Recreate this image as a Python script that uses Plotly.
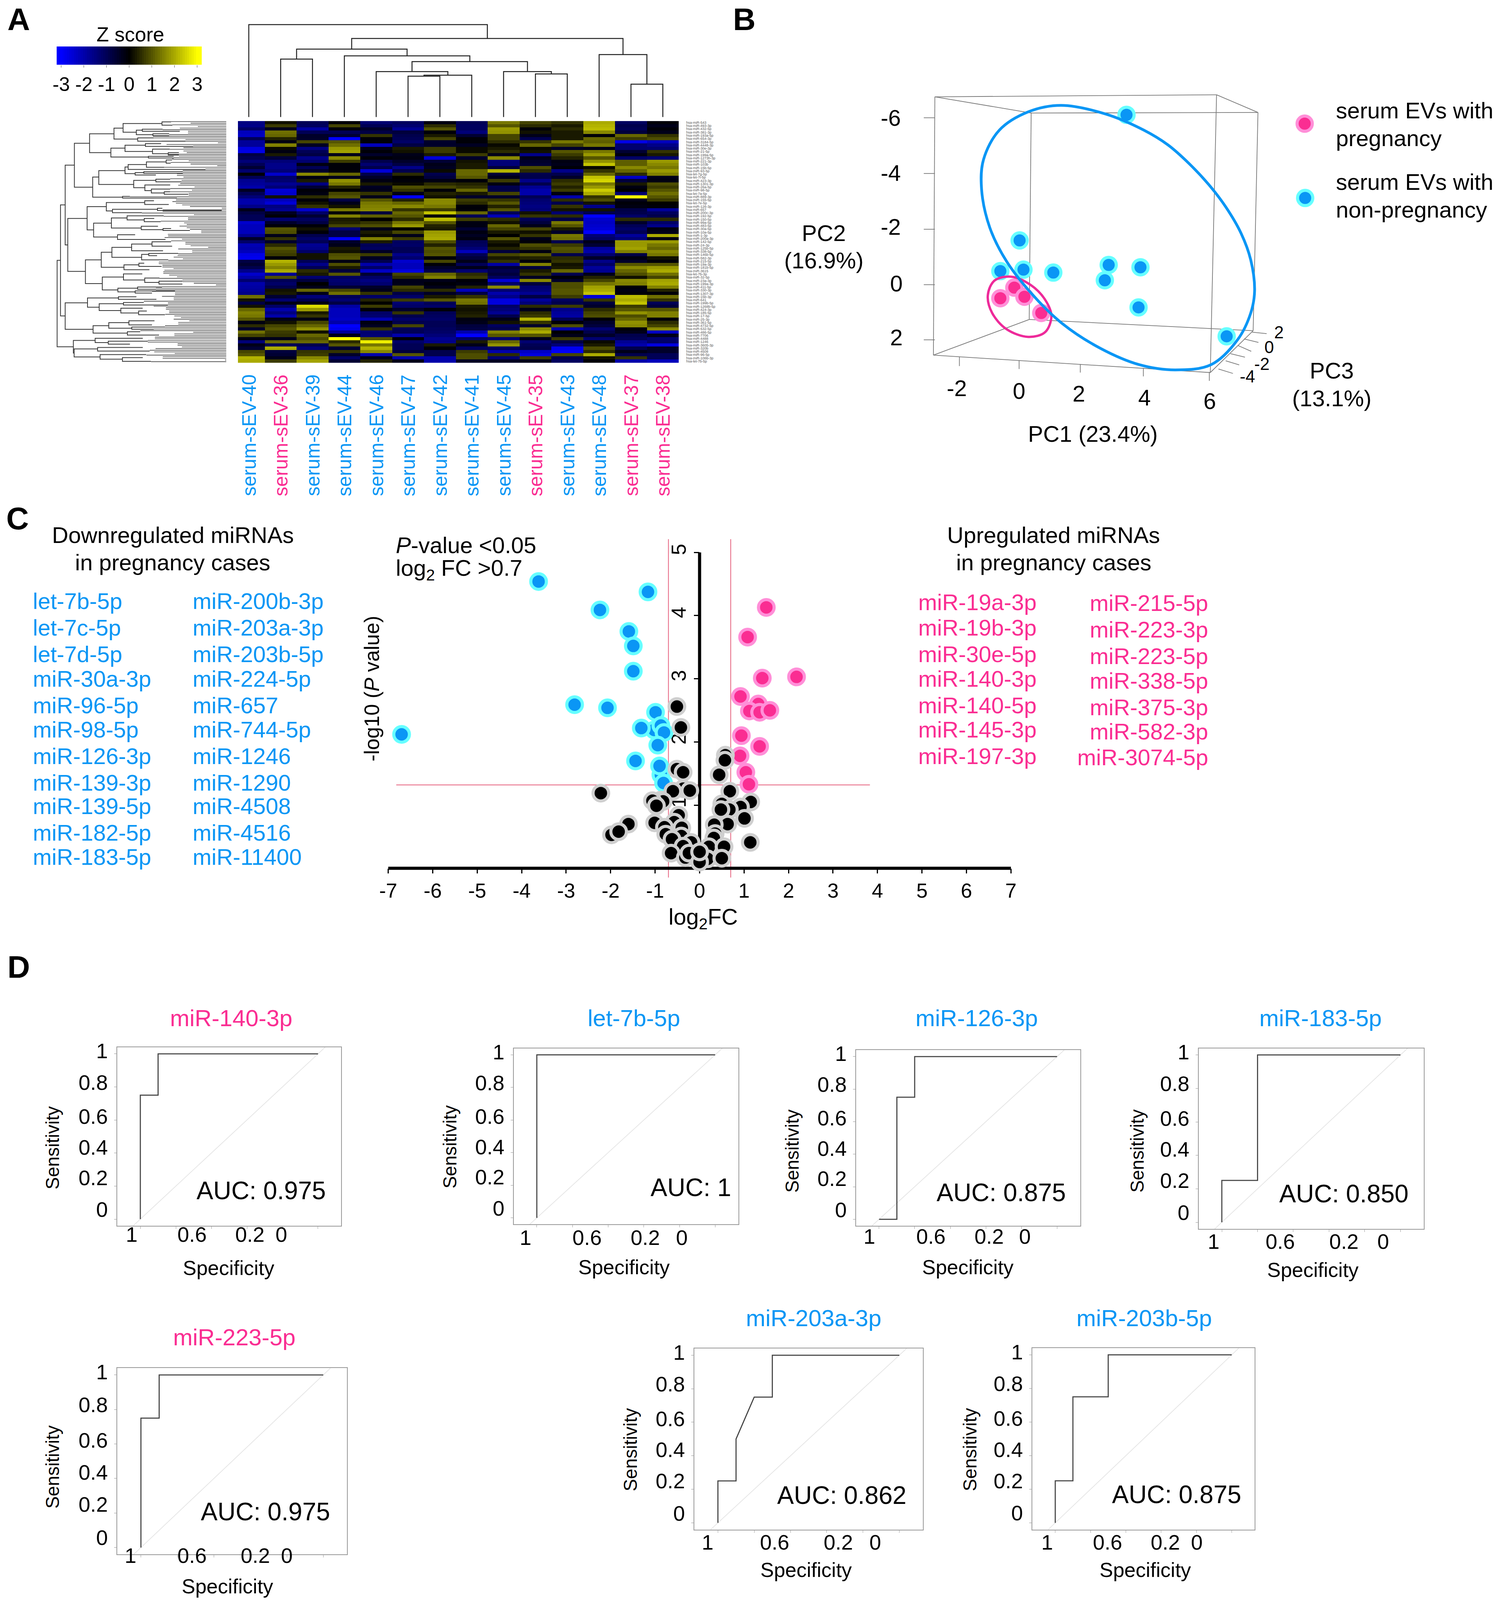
import plotly.graph_objects as go

W, H = 3839, 4496  # coordinates of the reference picture
PAGE_H = 4096  # the browser viewport stops here, so the whole figure has to fit in it
V = PAGE_H / H
T = W / 1339
FONT = "Liberation Sans"
BLUE = "#0A96F5"
PINK = "#FA2D92"

# ---------- panel A data ----------
samples = ["serum-sEV-40", "serum-sEV-36", "serum-sEV-39", "serum-sEV-44", "serum-sEV-46", "serum-sEV-47", "serum-sEV-42",
           "serum-sEV-41", "serum-sEV-45", "serum-sEV-35", "serum-sEV-43", "serum-sEV-48", "serum-sEV-37", "serum-sEV-38"]
pregnant_samples = ["serum-sEV-36", "serum-sEV-35", "serum-sEV-37", "serum-sEV-38"]
mirna_rows = ["miR-543", "miR-493-3p", "miR-432-5p", "miR-381-3p", "miR-193a-5p", "miR-654-3p", "miR-3184-5p", "miR-4448-3p",
              "miR-30e-3p", "miR-21-5p", "miR-199a-5p", "miR-1273h-3p", "miR-221-3p", "miR-103b", "miR-15b-5p", "miR-93-5p",
              "let-7g-5p", "let-7i-5p", "miR-423-3p", "miR-1301-3p", "miR-26a-5p", "miR-98-5p", "let-7a-5p", "miR-889-3p",
              "miR-155-5p", "let-7e-5p", "miR-126-3p", "miR-657", "miR-200c-3p", "miR-192-5p", "miR-150-5p", "miR-99a-5p",
              "miR-483-5p", "miR-30a-5p", "miR-10a-5p", "miR-1-3p", "miR-200a-3p", "miR-142-5p", "miR-24-3p", "miR-125b-5p",
              "miR-338-5p", "miR-146b-5p", "miR-582-3p", "miR-215-5p", "miR-19a-3p", "miR-181b-5p", "miR-3615", "let-7b-3p",
              "miR-32-5p", "miR-23a-3p", "miR-199a-3p", "miR-411-5p", "miR-330-3p", "miR-1307-3p", "miR-15b-3p", "miR-641",
              "miR-199b-5p", "miR-1268b-5p", "miR-424-3p", "miR-185-5p", "miR-17-5p", "miR-25-3p", "miR-361-5p", "miR-4732-5p",
              "miR-532-5p", "miR-486-5p", "miR-7706", "miR-4488", "miR-1246", "miR-3605-3p", "miR-320b", "miR-4508", "miR-96-5p",
              "miR-106b-3p", "let-7b-5p"]

z_sev40 = [-1.5, -1.6, -1.2, -2.2, -2.3, -1.0, -1.8, -1.8, -2.6, -2.7, -0.8, -1.0, -1.4, -1.0, -0.6,
           -1.3, -0.1, -1.0, -1.7, -1.8, -2.0, -0.4, -1.0, -1.4, -2.0, -2.0, -1.6, -0.3, -0.8, -1.0,
           -1.0, -2.4, -2.2, -2.2, -2.2, -1.7, -0.5, -1.2, -2.1, -2.0, -2.2, -2.7, -2.8, -0.8, -0.6,
           -0.9, -1.6, -2.4, -2.0, -1.3, -2.0, -1.9, -1.8, -1.6, 1.3, 0.2, -0.8, 0.2, 1.2, 1.5,
           1.4, 1.0, -0.2, 0.5, -0.5, 1.3, 0.8, -0.2, -1.4, -0.3, -0.6, 0.8, 1.0, 2.1, 2.0]
z_sev36 = [0.2, 0.7, -0.3, 1.3, 1.2, 0.4, -0.2, 1.5, 0.1, -0.2, 0.3, -0.7, -1.4, -1.6, -1.6,
           -1.4, -2.4, -1.2, -1.3, -1.7, -1.4, -2.5, -2.4, 0.2, -2.2, -2.5, -1.5, -1.7, -0.4, -0.1,
           -1.3, -0.5, -0.1, 1.0, 0.9, -0.3, 0.6, -0.5, 0.5, 1.0, 0.8, 0.7, -0.1, 2.1, 1.8,
           1.5, 2.0, -1.7, 0.9, -1.0, -1.2, -0.9, 0.2, 0.3, -0.6, -1.3, -0.3, -1.2, -2.0, -1.5,
           -2.0, -0.3, 0.2, 0.8, 1.0, 0.7, 0.6, -0.3, 1.2, -1.0, 2.0, -0.7, -0.6, -0.3, 0.7]
z_sev39 = [-1.0, -1.1, -1.9, -1.0, -0.5, -0.5, 0.8, -0.4, -1.5, -1.0, -0.8, -1.6, -1.3, -0.2, -1.0,
           -0.5, 1.6, -0.2, 0.3, -1.5, -0.6, -0.1, -0.2, 0.5, -0.1, 0.2, 0.6, -2.4, -1.2, -0.6,
           -1.1, -0.8, -0.1, 0.2, -0.1, -0.9, -1.2, -1.0, -1.7, -1.6, -1.2, 0.2, 0.2, -1.0, -1.6,
           -1.0, 0.5, 0.3, -1.3, -0.7, 0.0, -0.3, 1.2, -0.3, -1.4, -0.9, -0.2, 2.6, 1.8, 0.3,
           0.6, -0.2, 0.8, 1.2, 1.7, 0.2, 1.2, 0.9, 1.2, -0.9, -1.4, 0.6, 0.7, 1.6, 1.9]
z_sev44 = [-0.1, 0.8, -0.1, -1.0, -0.6, -3.0, 1.0, 1.3, 1.8, 1.9, -0.3, 1.6, 0.7, -0.1, -0.1,
           -0.1, 1.2, -0.3, 1.7, 1.4, 0.4, 0.0, 0.8, 1.0, -0.8, -0.3, 0.2, 1.4, -0.1, 1.5,
           0.3, 0.4, 0.8, -1.3, -0.8, -0.8, -2.9, -0.5, -0.3, 0.3, 0.2, 0.9, 1.0, -0.2, 0.9,
           0.3, -0.7, 1.0, -1.1, -1.3, -1.2, -0.6, 0.8, 1.3, -1.0, -1.3, -0.8, -1.9, -2.2, -2.2,
           -2.2, -2.3, -2.0, -3.0, -2.8, -1.8, -0.3, 3.0, 0.5, 1.0, -0.6, 0.6, -0.5, -1.2, -0.6]
z_sev46 = [-1.3, -1.0, -0.5, -0.8, 0.6, -0.1, -0.1, -2.2, -0.3, -0.1, -0.5, -0.1, -0.9, -1.3, -0.9,
           -2.5, -0.9, -0.5, -0.2, 0.3, -0.4, -0.3, 0.6, -0.3, 1.0, 1.4, 1.5, 1.6, -0.7, 1.1,
           0.0, 0.6, 0.9, -0.3, 0.3, 0.1, 1.5, 0.3, -1.0, -1.1, -0.4, 0.7, -0.4, -0.9, -2.0,
           -1.2, -2.3, -0.6, -1.2, -1.5, -1.3, -0.5, -0.3, 0.6, -1.2, 0.4, 0.0, 0.7, -0.1, -1.2,
           -1.3, -2.1, -0.2, -0.4, 0.6, -1.3, -1.4, 1.0, 2.8, 1.4, 2.1, 1.6, -2.0, -0.3, 0.4]
z_sev47 = [-1.1, -1.3, -1.7, -0.7, -0.9, -1.0, -1.2, -0.8, 0.3, 0.2, -0.3, -0.2, -0.5, -0.8, -1.6,
           -0.9, 0.5, 0.0, -0.1, 0.1, 0.9, 0.6, -0.3, -3.0, 0.4, 1.2, 1.6, 0.6, 1.2, 1.0,
           0.5, 1.4, 1.8, 0.0, 0.8, -0.3, 0.7, -1.1, -1.2, -1.0, -1.0, -1.6, -1.3, -2.4, -2.2,
           -2.2, -2.6, 0.8, 0.5, -0.3, -0.3, 0.8, 0.5, -0.8, -1.2, 0.7, -1.3, -1.2, -0.5, 0.6,
           -0.9, -1.2, -0.9, 0.8, -1.0, -1.0, -2.0, -0.1, -1.2, -1.0, -1.0, -0.7, 1.0, -2.0, -0.3]
z_sev42 = [-0.2, 0.5, 1.0, -0.1, 0.3, 0.8, -0.5, -0.5, 0.7, 0.7, 0.3, -2.5, -0.6, -0.3, -0.4,
           0.1, -0.9, -0.7, -0.2, 0.5, 0.8, -0.1, 0.4, 0.2, 1.6, 1.6, 1.4, 0.7, 2.3, -0.1,
           2.2, 1.0, 0.4, 0.3, 1.8, 1.9, 2.0, 0.9, 0.4, 1.0, 0.9, 1.0, -0.1, 0.8, -0.1,
           -0.5, -0.8, 1.2, 1.5, -0.3, -0.1, -0.3, 0.5, -0.4, 0.3, 1.0, -1.0, -1.2, -0.1, -1.0,
           -1.1, -1.2, -1.0, -1.0, -1.1, -1.2, -1.4, -1.7, -1.6, 0.3, -0.1, -0.9, -0.9, -2.0, -2.0]
z_sev41 = [-1.0, -1.1, -1.1, -1.4, -0.6, -0.1, -0.1, -0.4, 0.1, 0.1, 0.7, -0.5, 0.2, 0.3, 0.3,
           1.2, 1.2, 1.0, -0.1, 0.4, 0.6, 1.2, 0.3, -0.5, 0.7, 0.5, -0.1, -0.1, 1.2, -1.0,
           0.7, -0.2, -0.2, -0.6, -0.2, -0.4, -0.2, -1.0, -1.1, -1.4, -2.2, -1.0, -0.7, -0.3, -1.0,
           -0.3, -1.3, 0.5, 0.7, -0.1, -0.2, 0.4, -2.2, -0.8, 0.6, 1.4, 1.3, 0.3, 0.2, 0.3,
           0.4, -0.2, -0.3, -0.7, -0.8, -2.0, -3.0, -1.2, 0.3, -0.3, -1.1, 0.7, 0.9, 0.9, -0.4]
z_sev45 = [1.4, 1.0, 1.8, 1.7, 0.8, 0.8, 0.5, 0.1, 0.3, 0.5, -0.3, 1.6, -1.4, -1.4, -0.7,
           2.1, -0.6, -0.3, 0.7, -0.2, -0.9, -0.8, 0.8, -0.5, 0.6, 1.0, 0.4, 1.0, -1.0, -2.1,
           0.5, 0.2, 1.2, 0.8, 0.3, 0.0, 1.0, 0.3, 0.1, 0.4, -0.7, 0.8, 0.3, 0.6, -1.9,
           -0.6, -0.9, -0.7, -1.1, -2.5, -1.2, 1.6, -1.3, -2.0, -1.6, -2.6, -2.6, -1.2, -1.4, -1.7,
           -0.9, -0.3, 0.2, -1.1, -0.9, 1.5, 1.0, -1.3, 1.2, 1.7, -1.1, -2.0, 0.5, -1.3, -0.4]
z_sev35 = [0.8, 0.5, -0.1, 0.2, -0.3, -0.9, 0.6, 1.2, 0.1, 0.2, -1.6, -0.3, -0.5, -0.6, 0.9,
           0.5, -0.9, -0.9, -1.6, -0.9, -1.7, -2.0, -2.0, -1.0, -1.3, -1.4, -1.5, -1.4, 0.2, 0.6,
           -1.0, -0.7, -0.3, 0.8, 0.2, 0.6, -0.3, -0.1, 0.9, 0.6, -0.2, 1.0, 0.4, -0.1, 1.5,
           -0.7, 0.3, 0.6, -0.4, 1.6, -0.7, -1.3, -1.4, -1.7, -0.8, -1.8, -1.4, 0.5, -0.3, 0.5,
           0.7, 2.1, 0.6, -0.5, 1.6, 2.0, 1.0, -0.3, -1.3, -1.0, -0.9, -2.3, -2.6, 0.7, -0.3]
z_sev43 = [0.6, 0.3, 0.5, 0.3, 0.3, 0.3, 1.4, 0.8, -0.5, 1.0, 0.7, 0.4, -0.2, -0.3, -0.1,
           -1.6, -0.9, -0.5, 0.5, 0.7, 0.4, 0.7, -0.2, -2.0, 0.5, -0.9, 0.6, 0.2, -1.3, 0.5,
           -0.8, 1.4, 1.0, 0.3, -0.5, 1.4, 1.3, -0.9, 0.7, 1.0, 0.9, -0.9, 0.5, 0.6, 0.2,
           0.3, 1.2, -0.9, -0.1, -0.5, 0.9, 0.9, 1.0, 1.0, 0.7, -1.1, -0.9, 0.7, -1.6, -1.8,
           -1.9, -1.0, -0.1, 0.9, -2.0, 0.0, -0.3, 0.7, -0.8, -1.4, -2.8, -2.9, 0.8, -0.9, -1.1]
z_sev48 = [2.0, 2.1, 2.2, 1.6, -0.1, 1.2, 1.1, 1.4, -0.3, 1.4, 1.8, 1.0, 1.7, 2.3, 0.1,
           0.6, 1.2, 2.3, 2.5, 1.4, 1.8, 2.4, 2.0, 0.6, 0.9, 0.2, -1.6, 0.2, -0.9, -3.0,
           -2.4, -2.3, -2.4, -2.5, -3.0, -1.4, -1.2, -0.3, -0.6, -1.8, -2.0, -1.3, -0.5, -1.6, -1.2,
           -1.8, -1.7, -0.3, 0.4, 0.8, 1.4, 1.9, 2.0, 2.3, -2.5, 0.6, -0.7, -0.5, 0.5, 0.8,
           0.9, -0.1, -0.5, -0.7, -1.3, -0.9, -0.5, -1.3, 0.1, 0.3, 0.9, 0.5, 2.0, 0.2, -0.1]
z_sev37 = [-1.1, -0.9, -1.0, -0.7, 1.2, 0.7, -2.7, -1.3, -1.3, -0.6, -0.2, -1.2, 1.1, 1.1, 1.6,
           1.2, 0.5, -2.3, -0.7, 0.3, -0.2, 0.0, -1.3, 3.0, -0.3, -0.1, -0.2, -0.8, -0.9, -1.2,
           0.5, -0.5, -1.0, -1.2, -1.0, -1.8, -1.4, 1.8, 1.8, 1.9, 1.5, -0.8, -0.2, -0.5, 1.0,
           1.6, 1.2, 0.9, 0.2, 1.6, 1.5, -0.1, -0.2, -0.1, 2.2, 2.0, 2.3, 0.7, 1.0, 1.7,
           0.9, 1.2, 1.7, 1.6, -0.1, -0.3, -0.9, -1.0, -1.7, -2.0, -0.9, -0.3, -0.9, 0.6, -2.0]
z_sev38 = [-0.1, -0.3, -0.1, -0.3, 0.6, 0.9, -2.2, -1.6, -1.3, 0.6, 0.3, -1.3, 1.8, 1.6, 1.4,
           1.8, 1.5, -0.3, -0.2, 0.9, 0.7, 1.0, 1.3, 1.0, 0.7, 0.0, -0.1, -1.8, -1.1, -0.9,
           0.5, -1.2, -1.6, -0.2, -0.3, 2.0, -0.2, 1.8, 1.4, 1.2, 1.6, 1.4, 0.2, -0.1, 1.0,
           1.8, 2.0, 1.3, 0.8, 1.9, 2.0, 1.5, 0.4, -0.1, 1.3, 0.6, -1.0, -0.7, 1.0, 1.5,
           1.5, -0.1, 0.5, 0.8, 1.6, -2.3, -0.3, -1.3, -1.2, -2.6, -0.5, -0.5, -1.0, -1.0, -2.2]
z_columns = [z_sev40, z_sev36, z_sev39, z_sev44, z_sev46, z_sev47, z_sev42, z_sev41, z_sev45, z_sev35, z_sev43, z_sev48,
             z_sev37, z_sev38]
z_rows = [list(r) for r in zip(*z_columns)]

zscale_ticks = [-3, -2, -1, 0, 1, 2, 3]
zscale_steps = [-3.2 + 0.1 * i for i in range(65)]

# sample tree: x of the two children (in sample index), their heights, height of the merge
col_left_x = [0, 1.5, 1, 3, 4, 5, 5.5, 8, 9, 5.125, 3.23, 11, 12]
col_right_x = [7.49, 4.97, 2, 6.94, 6.25, 6, 7, 9.5, 10, 8.75, 11.75, 12.5, 13]
col_left_h = [0, 180, 0, 0, 0, 0, 127, 0, 0, 141, 211, 0, 0]
col_right_h = [244, 190, 0, 172, 130, 0, 0, 134, 0, 141, 194, 102, 0]
col_merge_h = [287, 211, 180, 190, 141, 127, 130, 141, 134, 172, 244, 194, 102]

# miRNA tree: bar position, top row + child reach, bottom row + child reach
bar_x = [107, 133, 169, 169, 240, 189, 357, 381, 545, 521, 615, 717, 763, 728, 630, 787, 842, 963, 810, 428, 630, 654, 795, 947,
         708, 775, 697, 868, 783, 833, 932, 611, 338, 486, 782, 533, 880, 388, 525, 646, 778, 755, 923, 572, 325, 447, 529, 681,
         838, 758, 813, 622, 737, 455, 618, 782, 892, 575, 727, 708, 341, 579, 431, 618, 598, 735, 384, 505, 660, 682, 648, 232,
         400, 501, 238, 419, 438, 610, 915, 845]
bar_top = [895, 555, 312, 1155, 178, 638, 120, 385, 85, 208, 57, 98, 92, 145, 190, 180, 214, 235, 258, 345, 323, 308, 292, 280,
           358, 352, 405, 398, 433, 458, 475, 503, 566, 541, 530, 582, 576, 667, 635, 622, 638, 686, 700, 738, 892, 845, 815, 795,
           781, 858, 852, 922, 912, 997, 978, 1003, 1022, 1065, 1058, 1082, 1125, 1118, 1160, 1153, 1188, 1205, 1295, 1276, 1265,
           1303, 1332, 1385, 1372, 1390, 1437, 1428, 1472, 1490, 47, 120]
bar_top_to = [133, 169, 240, 341, 357, 338, 545, 428, 615, 630, 915, 763, 920, 850, 787, 908, 975, 1045, 1005, 630, 654, 795, 947,
              993, 775, 1075, 868, 978, 978, 978, 978, 668, 486, 782, 853, 880, 918, 525, 646, 928, 855, 884, 985, 708, 447, 529,
              681, 838, 985, 813, 1040, 737, 778, 618, 763, 895, 1072, 727, 915, 1015, 579, 718, 618, 775, 766, 798, 505, 660, 857,
              938, 747, 400, 767, 805, 419, 767, 793, 767, 985, 970]
bar_bottom = [1424, 1235, 800, 1317, 447, 962, 235, 508, 152, 262, 110, 125, 104, 165, 228, 197, 242, 250, 268, 430, 364, 338, 325,
              300, 372, 362, 450, 414, 468, 482, 490, 513, 708, 592, 553, 603, 590, 752, 697, 647, 658, 707, 712, 767, 1037, 937,
              876, 836, 808, 892, 866, 952, 932, 1076, 1015, 1030, 1040, 1088, 1072, 1095, 1182, 1133, 1202, 1168, 1217, 1228, 1340,
              1310, 1290, 1316, 1352, 1462, 1398, 1408, 1486, 1450, 1500, 1513, 67, 132]
bar_bottom_to = [232, 169, 189, 384, 381, 325, 521, 611, 728, 810, 717, 845, 1052, 1095, 842, 1155, 963, 1045, 1005, 697, 708, 1250,
                 932, 982, 868, 1075, 783, 1063, 833, 932, 1117, 1030, 388, 533, 967, 760, 1375, 572, 755, 778, 905, 923, 1130, 942,
                 455, 622, 758, 923, 993, 963, 877, 818, 912, 575, 782, 892, 1072, 708, 868, 838, 431, 872, 598, 960, 735, 938, 648,
                 682, 838, 852, 892, 238, 501, 668, 438, 820, 610, 830, 995, 970]
leaf_start = [985, 1135, 995, 1190, 1052, 920, 1115, 1115, 970, 845, 850, 1095, 912, 1345, 950, 1155, 1080, 975, 1080, 1105,
              963, 1045, 1005, 993, 1120, 982, 1135, 1340, 932, 1250, 1075, 1075, 1030, 1030, 1080, 978, 1065, 1060, 1055, 1040,
              1165, 978, 1145, 978, 1120, 1120, 668, 1020, 1022, 995, 1022, 1070, 1130, 1375, 920, 920, 760, 1160, 928, 1115,
              1115, 905, 1085, 1105, 1050, 1105, 1130, 1217, 1217, 960, 962, 935, 1068, 985, 1095, 1095, 1135, 1270, 1040, 1147,
              1147, 1040, 1035, 1005, 1075, 963, 890, 890, 918, 918, 1003, 933, 925, 925, 970, 1030, 895, 1072, 1072, 1160,
              1330, 915, 868, 868, 838, 1015, 1015, 915, 1005, 1005, 775, 960, 960, 850, 945, 945, 970, 970, 940, 1010,
              1060, 1005, 1125, 1040, 1040, 938, 938, 852, 748, 1155, 1010, 1010, 860, 860, 805, 805, 1035, 1035, 1068, 865,
              820, 855, 1012, 795, 920, 920, 1400, 830]
leaf_row = [45 + 10 * i for i in range(len(leaf_start))]

# ---------- panel B data (projected positions of the 3D scatter) ----------
pca_nonpreg_x = [794, 572, 532, 580, 642, 757, 823, 749, 819, 1002]
pca_nonpreg_y = [388, 814, 918, 913, 923, 897, 905, 949, 1041, 1139]
pca_preg_x = [561, 532, 582, 617]
pca_preg_y = [974, 1010, 1005, 1060]
ellipse_nonpreg_x = [658, 590, 530, 497, 493, 510, 545, 600, 660, 740, 820, 895, 970, 1025, 1052, 1060, 1052, 1032, 1000, 965, 925, 880, 830, 750, 658]
ellipse_nonpreg_y = [356, 378, 440, 540, 640, 770, 885, 1000, 1095, 1180, 1235, 1253, 1235, 1150, 1060, 985, 880, 790, 700, 625, 555, 490, 440, 385, 356]
ellipse_preg_x = [555, 520, 506, 515, 545, 590, 625, 638, 625, 595, 555]
ellipse_preg_y = [937, 950, 1000, 1060, 1115, 1141, 1125, 1070, 1015, 965, 937]
cube_x = [396, 981, None, 981, 1067, None, 396, 596, None, 596, 1067, None, 396, 393, None, 393, 968, None, 968, 981, None, 596, 592, None,
          592, 1057, None, 1067, 1057, None, 393, 592, None, 968, 1057]
cube_y = [327, 320, None, 320, 380, None, 327, 382, None, 382, 380, None, 327, 1203, None, 1203, 1262, None, 1262, 320, None, 382, 1082, None,
          1082, 1120, None, 380, 1120, None, 1203, 1082, None, 1262, 1120]
cube_tick_x = [373, 396, None, 373, 396, None, 373, 396, None, 373, 396, None, 373, 396, None, 447, 447, None, 571, 571, None, 698, 698, None,
               829, 829, None, 966, 966, None, 1055, 1085, None, 1038, 1068, None, 1025, 1053, None, 1010, 1040, None, 1000, 1028, None, 985, 1015]
cube_tick_y = [398, 398, None, 587, 587, None, 776, 776, None, 964, 964, None, 1151, 1151, None, 1208, 1240, None, 1220, 1250, None, 1233, 1262, None,
               1247, 1275, None, 1260, 1290, None, 1125, 1130, None, 1148, 1160, None, 1170, 1190, None, 1198, 1210, None, 1222, 1236, None, 1250, 1265]
pc2_labels = ["-6", "-4", "-2", "0", "2"]
pc2_label_x = [305, 305, 305, 316, 316]
pc2_label_y = [398, 585, 768, 960, 1142]
pc1_labels = ["-2", "0", "2", "4", "6"]
pc1_label_x = [442, 571, 695, 831, 967]
pc1_label_y = [1314, 1324, 1333, 1346, 1358]
pc3_labels = ["2", "0", "-2", "-4"]
pc3_label_x = [1110, 1090, 1075, 1045]
pc3_label_y = [1125, 1175, 1232, 1275]

# ---------- panel C data ----------
down_x = [-3.62, -1.16, -2.24, -1.59, -1.49, -1.49, -2.81, -2.07, -6.70, -0.99, -1.02, -1.31, -0.87, -0.80, -0.94, -1.44, -0.87, -0.90, -0.81]
down_y = [4.54, 4.375, 4.09, 3.75, 3.52, 3.12, 2.59, 2.54, 2.12, 2.47, 2.19, 2.22, 2.26, 2.15, 1.95, 1.70, 1.48, 1.62, 1.35]
up_x = [1.50, 1.08, 2.18, 1.41, 0.92, 1.32, 1.12, 1.35, 1.58, 0.94, 1.35, 0.91, 1.04, 1.11]
up_y = [4.13, 3.66, 3.03, 3.01, 2.72, 2.60, 2.49, 2.47, 2.50, 2.10, 1.93, 1.78, 1.52, 1.33]
ns_x = [-0.51, -0.42, 0.58, 0.57, -0.51, -0.37, 0.44, -2.22, -0.37, -0.60, -0.22, 0.68, -0.87, -0.82, -1.06, -0.97, 1.15, 0.92, 0.50, 0.67,
        0.48, 1.01, 0.63, 0.33, -0.47, -0.57, -1.01, -1.60, -1.98, -1.82, -0.79, -0.40, -0.76, -0.41, -0.62, 0.35, 0.32, 1.14, -0.19, -0.37,
        0.21, 0.55, -0.64, -0.32, -0.24, 0.18, 0.50, 0.0, 0.0]
ns_y = [2.56, 2.23, 1.79, 1.71, 1.57, 1.52, 1.48, 1.19, 1.26, 1.22, 1.23, 1.22, 1.08, 1.06, 1.07, 0.99, 1.05, 0.97, 1.02, 0.93,
        0.93, 0.79, 0.70, 0.69, 0.84, 0.73, 0.72, 0.70, 0.53, 0.58, 0.65, 0.64, 0.54, 0.51, 0.46, 0.55, 0.48, 0.41, 0.41, 0.35,
        0.34, 0.34, 0.24, 0.17, 0.24, 0.15, 0.16, 0.10, 0.26]
fc_cutoff = 0.7
p_cutoff = 1.32
volcano_x_ticks = [-7, -6, -5, -4, -3, -2, -1, 0, 1, 2, 3, 4, 5, 6, 7]
volcano_x_labels = ["-7", "-6", "-5", "-4", "-3", "-2", "-1", "0", "1", "2", "3", "4", "5", "6", "7"]
volcano_y_ticks = [1, 2, 3, 4, 5]

down_col1 = ["let-7b-5p", "let-7c-5p", "let-7d-5p", "miR-30a-3p", "miR-96-5p", "miR-98-5p", "miR-126-3p", "miR-139-3p", "miR-139-5p",
             "miR-182-5p", "miR-183-5p"]
down_col2 = ["miR-200b-3p", "miR-203a-3p", "miR-203b-5p", "miR-224-5p", "miR-657", "miR-744-5p", "miR-1246", "miR-1290", "miR-4508",
             "miR-4516", "miR-11400"]
up_col1 = ["miR-19a-3p", "miR-19b-3p", "miR-30e-5p", "miR-140-3p", "miR-140-5p", "miR-145-3p", "miR-197-3p"]
up_col2 = ["miR-215-5p", "miR-223-3p", "miR-223-5p", "miR-338-5p", "miR-375-3p", "miR-582-3p", "miR-3074-5p"]

# ---------- panel D data ----------
roc_names = ["miR-140-3p", "let-7b-5p", "miR-126-3p", "miR-183-5p", "miR-223-5p", "miR-203a-3p", "miR-203b-5p"]
roc_colors = [PINK, BLUE, BLUE, BLUE, PINK, BLUE, BLUE]
roc_auc = ["AUC: 0.975", "AUC: 1", "AUC: 0.875", "AUC: 0.850", "AUC: 0.975", "AUC: 0.862", "AUC: 0.875"]
spec_140 = [1, 1, 0.9, 0.9, 0]
sens_140 = [0, 0.75, 0.75, 1, 1]
spec_let7b = [1, 1, 0]
sens_let7b = [0, 1, 1]
spec_126 = [1, 0.9, 0.9, 0.8, 0.8, 0]
sens_126 = [0, 0, 0.75, 0.75, 1, 1]
spec_183 = [1, 1, 0.8, 0.8, 0]
sens_183 = [0, 0.25, 0.25, 1, 1]
spec_223 = [1, 1, 0.9, 0.9, 0]
sens_223 = [0, 0.75, 0.75, 1, 1]
spec_203a = [1, 1, 0.9, 0.9, 0.8, 0.7, 0.7, 0]
sens_203a = [0, 0.25, 0.25, 0.5, 0.75, 0.75, 1, 1]
spec_203b = [1, 1, 0.9, 0.9, 0.7, 0.7, 0]
sens_203b = [0, 0.25, 0.25, 0.75, 0.75, 1, 1]
roc_specs = [spec_140, spec_let7b, spec_126, spec_183, spec_223, spec_203a, spec_203b]
roc_sens = [sens_140, sens_let7b, sens_126, sens_183, sens_223, sens_203a, sens_203b]
roc_x_ticks = [1, 0.8, 0.6, 0.4, 0.2, 0]
roc_y_ticks = [1, 0.8, 0.6, 0.4, 0.2, 0]
roc_y_labels = ["1", "0.8", "0.6", "0.4", "0.2", "0"]
roc_y_label_at = [1.018, 0.828, 0.622, 0.436, 0.25, 0.058]
roc_x_labels = ["1", "0.6", "0.2", "0"]

# box in real pixels: left, right, top, bottom
roc_boxes = [(290, 865, 2943, 3445), (1308, 1885, 2946, 3441), (2187, 2763, 2951, 3445), (3067, 3645, 2946, 3454),
             (290, 880, 3845, 4369), (1772, 2359, 3790, 4299), (2640, 3211, 3789, 4299)]
# the rest in 1339 px view: title xy, specificity xy, sensitivity xy, auc xy, x label xs, x label y
roc_title_xy = [(203, 998), (564, 998), (871, 998), (1179, 998), (206, 1311), (725, 1292), (1021, 1292)]
roc_xtitle_xy = [(201, 1243), (555, 1242), (863, 1242), (1172, 1245), (200, 1555), (718, 1539), (1022, 1539)]
roc_ytitle_xy = [(43, 1125), (399, 1124), (706, 1128), (1015, 1128), (43, 1438), (561, 1421), (865, 1421)]
roc_auc_xy = [(230, 1167), (615, 1164), (893, 1169), (1200, 1170), (234, 1482), (750, 1466), (1050, 1465)]
roc_xlabel_x = [(114, 168, 220, 248), (467, 522, 574, 607), (775, 830, 882, 914), (1083, 1143, 1200, 1235), (113, 168, 225, 253),
                (630, 690, 747, 780), (934, 988, 1040, 1068)]
roc_xlabel_y = [1210, 1213, 1212, 1217, 1525, 1512, 1512]


def dom_x(left, right):
    return [left / W, right / W]


def dom_y(top, bottom):
    return [1 - bottom / H, 1 - top / H]


annotations = []


def text(x, y, s, size=58, color="black", xanchor="center", yanchor="middle", angle=0, xref="paper", yref="paper"):
    # paper positions are given in reference pixels from the top left
    if xref == "paper":
        x = x / W
    if yref == "paper":
        y = 1 - y / H
    annotations.append(dict(x=x, y=y, text=s, xref=xref, yref=yref, xanchor=xanchor, yanchor=yanchor, textangle=angle,
                            showarrow=False, font=dict(family=FONT, size=size, color=color)))


layout_axes = {}
fig = go.Figure()

# ---------- A: heatmap ----------
fig.add_trace(go.Heatmap(z=z_rows, x=list(range(14)), y=list(range(75)), zmin=-3, zmax=3, showscale=False, xaxis="x", yaxis="y",
                         colorscale=[[0, "#0000ff"], [0.5, "#000000"], [1, "#ffff00"]]))
layout_axes["xaxis"] = dict(domain=dom_x(587, 1732), range=[-0.5, 13.5], showticklabels=False, ticks="", showgrid=False, zeroline=False,
                            anchor="y")
layout_axes["yaxis"] = dict(domain=dom_y(339, 1019), range=[74.5, -0.5], side="right", tickvals=list(range(75)),
                            ticktext=["hsa-" + m for m in mirna_rows], tickfont=dict(family=FONT, size=9, color="#555555"),
                            ticks="", showgrid=False, zeroline=False, ticklabelstandoff=18, anchor="x")
for i, s in enumerate(samples):
    text(i, 1049, s, size=54 * V, color=PINK if s in pregnant_samples else BLUE, yanchor="top", angle=-90, xref="x")

# sample tree over the heatmap columns
col_x, col_h = [], []
for lx, lh, rx, rh, h in zip(col_left_x, col_left_h, col_right_x, col_right_h, col_merge_h):
    col_x += [lx, lx, rx, rx, None]
    col_h += [lh, h, h, rh, None]
fig.add_trace(go.Scatter(x=col_x, y=col_h, mode="lines", line=dict(color="#222222", width=2.5), xaxis="x", yaxis="y2", hoverinfo="skip"))
layout_axes["yaxis2"] = dict(domain=dom_y(328 - 300 / 1.104, 328), range=[0, 300], visible=False, anchor="x")

# miRNA tree on the left
row_x, row_y = [], []
for x0, y0, x1, y1, x2 in zip(bar_x, bar_top, bar_top_to, bar_bottom, bar_bottom_to):
    row_x += [x1, x0, x0, x2, None]
    row_y += [y0, y0, y1, y1, None]
fig.add_trace(go.Scatter(x=row_x, y=row_y, mode="lines", line=dict(color="#333333", width=2), xaxis="x3", yaxis="y3", hoverinfo="skip"))
leaf_x, leaf_y = [], []
for x0, y0 in zip(leaf_start, leaf_row):
    leaf_x += [x0, 1410, None]
    leaf_y += [y0, y0, None]
fig.add_trace(go.Scatter(x=leaf_x, y=leaf_y, mode="lines", line=dict(color="#444444", width=1.6), xaxis="x3", yaxis="y3", hoverinfo="skip"))
layout_axes["xaxis3"] = dict(domain=dom_x(100, 600), range=[0, 1500], visible=False, anchor="y3")
layout_axes["yaxis3"] = dict(domain=dom_y(320, 1040), range=[1568, 0], visible=False, anchor="x3")

# z score bar
fig.add_trace(go.Heatmap(z=[zscale_steps], x=zscale_steps, y=[0], zmin=-3, zmax=3, showscale=False, xaxis="x4", yaxis="y4", hoverinfo="skip",
                         colorscale=[[0, "#0000ff"], [0.5, "#000000"], [1, "#ffff00"]]))
layout_axes["xaxis4"] = dict(domain=dom_x(134.5, 507), range=[-3.2, 3.2], tickvals=zscale_ticks, ticktext=[str(t) for t in zscale_ticks],
                             ticks="outside", ticklen=6, tickcolor="#555555", tickfont=dict(family=FONT, size=50, color="black"),
                             showgrid=False, zeroline=False, anchor="y4")
layout_axes["yaxis4"] = dict(domain=dom_y(129.5, 181), visible=False, anchor="x4")
text(324, 96, "Z score", size=52)

# ---------- B: PCA ----------
fig.add_trace(go.Scatter(x=cube_x, y=cube_y, mode="lines", line=dict(color="#777777", width=1.8), xaxis="x5", yaxis="y5", hoverinfo="skip"))
fig.add_trace(go.Scatter(x=cube_tick_x, y=cube_tick_y, mode="lines", line=dict(color="#777777", width=1.8), xaxis="x5", yaxis="y5", hoverinfo="skip"))
fig.add_trace(go.Scatter(x=pca_nonpreg_x + [1165], y=pca_nonpreg_y + [670], mode="markers", xaxis="x5", yaxis="y5",
                         marker=dict(size=39, color=BLUE, line=dict(color="#66FFFF", width=8))))
fig.add_trace(go.Scatter(x=pca_preg_x + [1164], y=pca_preg_y + [418], mode="markers", xaxis="x5", yaxis="y5",
                         marker=dict(size=39, color=PINK, line=dict(color="#FF8FD8", width=8))))
fig.add_trace(go.Scatter(x=ellipse_preg_x, y=ellipse_preg_y, mode="lines", line=dict(color="#EE2A9A", width=6, shape="spline", smoothing=1),
                         xaxis="x5", yaxis="y5", hoverinfo="skip"))
fig.add_trace(go.Scatter(x=ellipse_nonpreg_x, y=ellipse_nonpreg_y, mode="lines", line=dict(color=BLUE, width=7, shape="spline", smoothing=1),
                         xaxis="x5", yaxis="y5", hoverinfo="skip"))
layout_axes["xaxis5"] = dict(domain=dom_x(1900, 3839), range=[0, 1568], visible=False, anchor="y5")
layout_axes["yaxis5"] = dict(domain=dom_y(0, 1300), range=[1568, 0], visible=False, anchor="x5")
for labels, xs, ys, size in [(pc2_labels, pc2_label_x, pc2_label_y, 58), (pc1_labels, pc1_label_x, pc1_label_y, 58),
                             (pc3_labels, pc3_label_x, pc3_label_y, 44)]:
    for s, x, y in zip(labels, xs, ys):
        text(x, y, s, size=size, xref="x5", yref="y5")
for s, x, y in [("PC2", 734, 228), ("(16.9%)", 734, 255), ("PC1 (23.4%)", 975, 425), ("PC3", 1189, 363), ("(13.1%)", 1189, 390)]:
    text(x * T, y * T, s, size=58)
for s, y in [("serum EVs with", 108), ("pregnancy", 135), ("serum EVs with", 178), ("non-pregnancy", 205)]:
    text(1192 * T, y * T, s, size=58, xanchor="left")

# ---------- C: volcano ----------
red = dict(color="#E8708A", width=2.2)
fig.add_trace(go.Scatter(x=[-6.82, 3.83], y=[p_cutoff, p_cutoff], mode="lines", line=red, xaxis="x6", yaxis="y6", hoverinfo="skip"))
fig.add_trace(go.Scatter(x=[-fc_cutoff, -fc_cutoff, None, fc_cutoff, fc_cutoff], y=[-0.147, 5.21, None, -0.147, 5.21], mode="lines", line=red,
                         xaxis="x6", yaxis="y6", hoverinfo="skip"))
fig.add_trace(go.Scatter(x=[-7, 7, None, 0, 0], y=[0, 0, None, 0, 5], mode="lines", line=dict(color="black", width=8), xaxis="x6", yaxis="y6",
                         hoverinfo="skip"))
for xs, ys, fill, edge in [(down_x, down_y, BLUE, "#66FFFF"), (up_x, up_y, PINK, "#FF8FD8"), (ns_x, ns_y, "black", "#CFCFCF")]:
    fig.add_trace(go.Scatter(x=xs, y=ys, mode="markers", cliponaxis=False, xaxis="x6", yaxis="y6",
                             marker=dict(size=40, color=fill, line=dict(color=edge, width=8))))
layout_axes["xaxis6"] = dict(domain=dom_x(986 - 0.2 * 114.2, 2585 + 0.2 * 114.2), range=[-7.2, 7.2], tickvals=volcano_x_ticks, ticktext=volcano_x_labels,
                             ticks="outside", ticklen=12, tickwidth=3, tickcolor="black", tickfont=dict(family=FONT, size=52, color="black"),
                             showgrid=False, zeroline=False, anchor="free", position=1 - 2440 / H, layer="below traces")
layout_axes["yaxis6"] = dict(domain=dom_y(1552 - 0.3 * 177.6, 2440 + 0.3 * 177.6), range=[-0.3, 5.3], tickvals=volcano_y_ticks,
                             ticktext=[str(t) for t in volcano_y_ticks], tickangle=-90, ticks="outside", ticklen=14, tickwidth=3, tickcolor="black",
                             tickfont=dict(family=FONT, size=52, color="black"), showgrid=False, zeroline=False, anchor="free",
                             position=1785 / W, layer="below traces")
text(350 * T, 534 * T, "<i>P</i>-value &lt;0.05", xanchor="left")
text(350 * T, 558 * T, "log<sub>2</sub> FC &gt;0.7", xanchor="left")
text(329 * T, 675 * T, "-log10 (<i>P</i> value)", size=58 * V, angle=-90)
text(626 * T, 900 * T, "log<sub>2</sub>FC")
for s, y in [("Downregulated miRNAs", 524), ("in pregnancy cases", 551)]:
    text(151 * T, y * T, s)
for s, y in [("Upregulated miRNAs", 524), ("in pregnancy cases", 551)]:
    text(940 * T, y * T, s)
down_rows = [589, 615, 641, 665, 691, 715, 741, 767, 790, 816, 840]
for a, b, y in zip(down_col1, down_col2, down_rows):
    text(25 * T, y * T, a, color=BLUE, xanchor="left")
    text(168 * T, y * T, b, color=BLUE, xanchor="left")
for a, y in zip(up_col1, [590, 615, 641, 665, 691, 715, 741]):
    text(818 * T, y * T, a, color=PINK, xanchor="left")
for b, y in zip(up_col2, [591, 617, 643, 667, 693, 717, 742]):
    text(1079 * T, y * T, b, color=PINK, xanchor="right")

# ---------- D: ROC curves ----------
for i, (xs, ys) in enumerate(zip(roc_specs, roc_sens)):
    n = 7 + i
    left, right, top, bottom = roc_boxes[i]
    fig.add_trace(go.Scatter(x=[1.04, -0.04], y=[-0.04, 1.04], mode="lines", line=dict(color="#E4E4E4", width=1.8), xaxis=f"x{n}", yaxis=f"y{n}",
                             hoverinfo="skip"))
    fig.add_trace(go.Scatter(x=xs, y=ys, mode="lines", line=dict(color="#444444", width=2.8), xaxis=f"x{n}", yaxis=f"y{n}"))
    layout_axes[f"xaxis{n}"] = dict(domain=dom_x(left, right), range=[1.13, -0.13], tickvals=roc_x_ticks, showticklabels=False, ticks="outside", ticklen=6,
                                    tickcolor="#999999", showline=True, mirror=True, linecolor="#999999", linewidth=2, showgrid=False, zeroline=False,
                                    anchor=f"y{n}")
    layout_axes[f"yaxis{n}"] = dict(domain=dom_y(top, bottom), range=[-0.04, 1.04], tickvals=roc_y_ticks, showticklabels=False, ticks="outside", ticklen=6,
                                    tickcolor="#999999", showline=True, mirror=True, linecolor="#999999", linewidth=2, showgrid=False, zeroline=False,
                                    anchor=f"x{n}")
    for s, y in zip(roc_y_labels, roc_y_label_at):
        text(left - 22, y, s, size=54, xanchor="right", yref=f"y{n}")
    for s, x in zip(roc_x_labels, roc_xlabel_x[i]):
        text(x * T, roc_xlabel_y[i] * T, s, size=54)
    text(roc_title_xy[i][0] * T, roc_title_xy[i][1] * T, roc_names[i], size=60, color=roc_colors[i])
    text(roc_xtitle_xy[i][0] * T, roc_xtitle_xy[i][1] * T, "Specificity", size=52)
    text(roc_ytitle_xy[i][0] * T, roc_ytitle_xy[i][1] * T, "Sensitivity", size=52 * V, angle=-90)
    text(roc_auc_xy[i][0] * T, roc_auc_xy[i][1] * T, roc_auc[i], size=64)

# panel letters
text(13 * T, 2, "<b>A</b>", size=80, yanchor="top")
text(663 * T, 2, "<b>B</b>", size=80, yanchor="top")
text(12 * T, 508 * T, "<b>C</b>", size=80)
text(13 * T, 948 * T, "<b>D</b>", size=80)

fig.update_layout(width=W, height=PAGE_H, margin=dict(l=0, r=0, t=0, b=0, pad=0), paper_bgcolor="white", plot_bgcolor="white", showlegend=False,
                  annotations=annotations, font=dict(family=FONT), **layout_axes)
fig.write_html("out.html", config={"displayModeBar": False}, post_script="document.body.style.margin='0';")
